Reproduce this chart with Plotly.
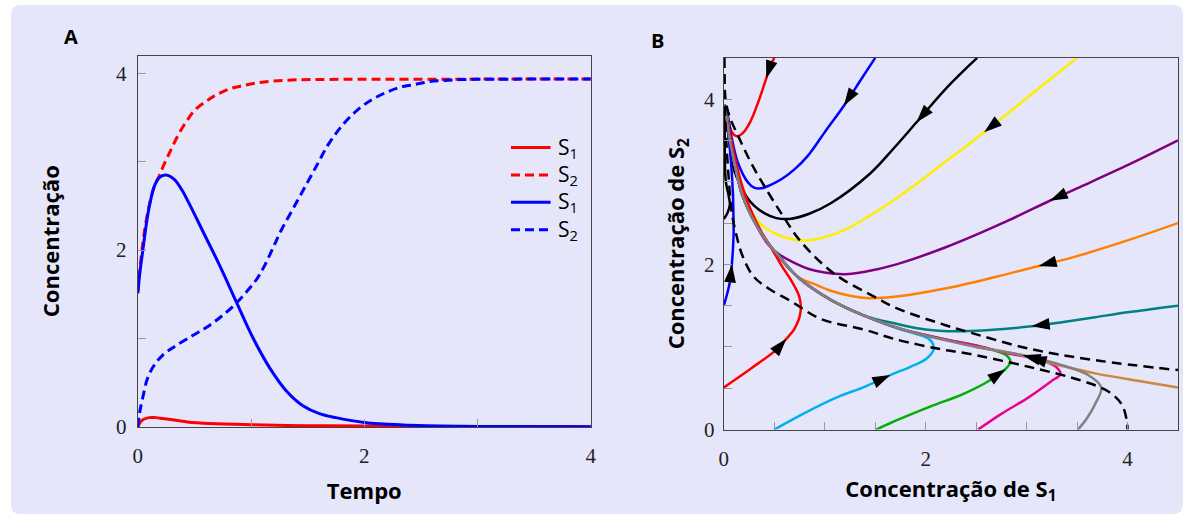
import plotly.graph_objects as go

W, H = 1191, 530
BG = "#e6e6fa"

# ---------------- Panel A data (time courses) ----------------
t_red_s1 = [0, 0.02, 0.044, 0.10, 0.16, 0.22, 0.29, 0.437, 0.64, 0.99, 1.5, 2.0, 3.0, 4.0]
red_s1 = [0, 0.05, 0.08, 0.105, 0.105, 0.095, 0.083, 0.056, 0.038, 0.025, 0.014, 0.009, 0.004, 0.002]

t_red_s2 = [0, 0.03, 0.06, 0.10, 0.146, 0.19, 0.219, 0.262, 0.306, 0.365, 0.437, 0.51, 0.612,
            0.70, 0.816, 0.933, 1.056, 1.187, 1.4, 1.7, 2.2, 3.0, 4.0]
red_s2 = [1.52, 1.92, 2.22, 2.50, 2.72, 2.84, 2.93, 3.05, 3.17, 3.32, 3.47, 3.59, 3.69,
          3.76, 3.825, 3.86, 3.89, 3.91, 3.925, 3.93, 3.932, 3.933, 3.933]

t_blue_s1 = [0, 0.02, 0.044, 0.073, 0.10, 0.146, 0.19, 0.248, 0.322, 0.394, 0.452, 0.583, 0.729,
             0.875, 1.02, 1.166, 1.312, 1.458, 1.604, 1.75, 2.0, 2.34, 2.85, 4.0]
blue_s1 = [1.51, 1.76, 1.99, 2.27, 2.48, 2.72, 2.82, 2.85, 2.80, 2.67, 2.53, 2.19, 1.81,
           1.40, 1.0, 0.665, 0.407, 0.24, 0.15, 0.105, 0.05, 0.022, 0.008, 0.003]

t_blue_s2 = [0, 0.015, 0.044, 0.087, 0.146, 0.219, 0.32, 0.48, 0.612, 0.729, 0.846, 0.962, 1.05,
             1.122, 1.196, 1.269, 1.385, 1.496, 1.59, 1.67, 1.75, 1.826, 1.91, 2.0, 2.10, 2.216,
             2.33, 2.45, 2.58, 2.706, 2.85, 3.1, 4.0]
blue_s2 = [0, 0.15, 0.33, 0.554, 0.70, 0.81, 0.905, 1.03, 1.13, 1.24, 1.37, 1.53, 1.67,
           1.83, 2.03, 2.23, 2.50, 2.76, 2.98, 3.17, 3.32, 3.44, 3.55, 3.645, 3.725, 3.795,
           3.845, 3.873, 3.906, 3.917, 3.928, 3.932, 3.933]

legend_labels = ["S<sub>1</sub>", "S<sub>2</sub>", "S<sub>1</sub>", "S<sub>2</sub>"]

# ---------------- Panel B data (phase plane) ----------------
red_top_x = [0.50, 0.46, 0.42, 0.34, 0.26, 0.18, 0.126, 0.085, 0.06, 0.028, 0.01]
red_top_y = [4.50, 4.40, 4.25, 3.96, 3.72, 3.58, 3.55, 3.59, 3.66, 3.86, 3.93]

blue_top_x = [1.50, 1.35, 1.19, 1.0, 0.83, 0.70, 0.57, 0.46, 0.37, 0.30, 0.24, 0.14, 0.077, 0.037, 0.01]
blue_top_y = [4.50, 4.22, 3.92, 3.60, 3.31, 3.15, 3.03, 2.96, 2.92, 2.93, 2.99, 3.23, 3.54, 3.82, 3.93]

black_top_x = [2.51, 2.21, 1.91, 1.68, 1.45, 1.06, 0.84, 0.65, 0.52, 0.40, 0.30, 0.22, 0.11, 0.06, 0.028, 0.01]
black_top_y = [4.50, 4.14, 3.72, 3.40, 3.10, 2.74, 2.61, 2.55, 2.56, 2.62, 2.71, 2.83, 3.11, 3.43, 3.78, 3.93]

yellow_x = [3.50, 3.03, 2.58, 2.205, 1.71, 1.22, 1.0, 0.83, 0.57, 0.34, 0.175, 0.077, 0.028, 0.01]
yellow_y = [4.50, 4.04, 3.60, 3.25, 2.80, 2.43, 2.33, 2.29, 2.34, 2.52, 2.91, 3.43, 3.82, 3.93]

purple_x = [4.50, 4.00, 3.50, 3.23, 2.80, 2.205, 1.71, 1.40, 1.20, 1.00, 0.85, 0.73, 0.55, 0.44,
            0.32, 0.18, 0.12, 0.06, 0.03, 0.01]
purple_y = [3.50, 3.20, 2.92, 2.77, 2.52, 2.21, 2.00, 1.91, 1.88, 1.90, 1.94, 2.00, 2.12, 2.24,
            2.48, 2.85, 3.15, 3.50, 3.75, 3.93]

orange_x = [4.50, 4.00, 3.50, 3.12, 2.70, 2.205, 1.71, 1.45, 1.25, 1.06, 0.90, 0.73, 0.56, 0.45,
            0.32, 0.18, 0.12, 0.06, 0.03, 0.01]
orange_y = [2.50, 2.29, 2.10, 1.98, 1.85, 1.71, 1.61, 1.59, 1.62, 1.68, 1.76, 1.85, 2.08, 2.24,
            2.48, 2.85, 3.15, 3.50, 3.75, 3.93]

teal_x = [4.50, 4.00, 3.68, 3.30, 3.05, 2.70, 2.37, 2.10, 1.90, 1.71, 1.50, 1.39, 1.06, 0.73,
          0.56, 0.45, 0.32, 0.18, 0.12, 0.06, 0.03, 0.01]
teal_y = [1.50, 1.42, 1.36, 1.29, 1.25, 1.21, 1.19, 1.20, 1.23, 1.28, 1.34, 1.38, 1.57, 1.85,
          2.08, 2.24, 2.48, 2.85, 3.15, 3.50, 3.75, 3.93]

cyan_x = [0.50, 0.80, 1.12, 1.40, 1.65, 1.85, 2.01, 2.08, 2.04, 1.90, 1.71, 1.39, 1.06, 0.73,
          0.56, 0.45, 0.32, 0.18, 0.12, 0.06, 0.03, 0.01]
cyan_y = [0.00, 0.20, 0.39, 0.52, 0.66, 0.76, 0.86, 0.98, 1.09, 1.16, 1.23, 1.38, 1.57, 1.85,
          2.08, 2.24, 2.48, 2.85, 3.15, 3.50, 3.75, 3.93]

green_x = [1.51, 1.71, 2.05, 2.37, 2.60, 2.79, 2.84, 2.80, 2.70, 2.53, 2.20, 1.75, 1.39, 1.06,
           0.73, 0.45, 0.32, 0.18, 0.12, 0.06, 0.03, 0.01]
green_y = [0.00, 0.11, 0.28, 0.43, 0.57, 0.73, 0.82, 0.90, 0.95, 1.01, 1.09, 1.22, 1.38, 1.57,
           1.85, 2.24, 2.48, 2.85, 3.15, 3.50, 3.75, 3.93]

pink_x = [2.52, 2.75, 3.02, 3.25, 3.335, 3.30, 3.19, 3.02, 2.86, 2.53, 2.20, 1.75, 1.39, 1.06,
          0.73, 0.45, 0.32, 0.18, 0.12, 0.06, 0.03, 0.01]
pink_y = [0.00, 0.19, 0.39, 0.59, 0.67, 0.75, 0.82, 0.88, 0.91, 1.01, 1.09, 1.22, 1.38, 1.57,
          1.85, 2.24, 2.48, 2.85, 3.15, 3.50, 3.75, 3.93]

brown_x = [4.50, 4.10, 3.68, 3.35, 3.12, 2.96, 2.50]
brown_y = [0.51, 0.59, 0.68, 0.77, 0.84, 0.90, 1.00]

gray_x = [3.51, 3.60, 3.68, 3.74, 3.61, 3.35, 2.96, 2.50, 2.20, 1.75, 1.39, 1.06, 0.73, 0.56,
          0.45, 0.32, 0.18, 0.12, 0.06, 0.03, 0.01]
gray_y = [0.00, 0.14, 0.31, 0.51, 0.66, 0.78, 0.90, 1.00, 1.08, 1.22, 1.38, 1.57, 1.85, 2.08,
          2.24, 2.48, 2.85, 3.15, 3.50, 3.75, 3.93]

red_bot_x = [0.00, 0.27, 0.535, 0.62, 0.70, 0.76, 0.75, 0.68, 0.58, 0.48, 0.37, 0.26, 0.17, 0.10,
             0.05, 0.02, 0.01]
red_bot_y = [0.51, 0.74, 0.98, 1.10, 1.22, 1.42, 1.60, 1.78, 1.97, 2.18, 2.40, 2.68, 3.00, 3.35,
             3.65, 3.85, 3.93]

blue_left_x = [0.0, 0.035, 0.064, 0.08, 0.097, 0.095, 0.09, 0.064, 0.03, 0.01]
blue_left_y = [1.50, 1.65, 1.81, 2.00, 2.36, 2.62, 2.87, 3.35, 3.74, 3.93]

black_left_x = [0.0, 0.035, 0.06, 0.045, 0.02, 0.01, 0.01, 0.01]
black_left_y = [2.55, 2.62, 2.72, 2.85, 3.0, 3.3, 3.65, 3.93]

null1_x = [0.005, 0.008, 0.02, 0.06, 0.14, 0.27, 0.44, 0.60, 0.76, 1.09, 1.52, 1.71, 2.205,
           2.37, 3.02, 3.68, 4.5]
null1_y = [4.5, 4.2, 3.97, 3.78, 3.56, 3.23, 2.87, 2.56, 2.28, 1.89, 1.59, 1.47, 1.26,
           1.20, 0.98, 0.84, 0.72]

null2_x = [0.003, 0.006, 0.012, 0.025, 0.047, 0.08, 0.12, 0.18, 0.29, 0.44, 0.67, 0.96, 1.39,
           1.71, 2.205, 2.37, 3.02, 3.55, 3.81, 3.94, 3.99, 4.0]
null2_y = [4.5, 4.2, 3.9, 3.5, 3.07, 2.62, 2.38, 2.12, 1.86, 1.71, 1.55, 1.34, 1.21,
           1.09, 0.96, 0.93, 0.76, 0.59, 0.46, 0.31, 0.13, 0.0]

# trajectories: (x, y, colour, index of point carrying an arrowhead or None)
trajectories = [
    (red_top_x, red_top_y, "#ff0000", 2),
    (blue_top_x, blue_top_y, "#0000ff", 2),
    (black_top_x, black_top_y, "#000000", 2),
    (yellow_x, yellow_y, "#ffee00", 2),
    (purple_x, purple_y, "#800080", 3),
    (orange_x, orange_y, "#ff8000", 3),
    (teal_x, teal_y, "#008080", 4),
    (cyan_x, cyan_y, "#00b0f0", 4),
    (green_x, green_y, "#00b000", 5),
    (pink_x, pink_y, "#ec008c", 7),
    (red_bot_x, red_bot_y, "#ff0000", 3),
    (blue_left_x, blue_left_y, "#0000ff", 3),
    (black_left_x, black_left_y, "#000000", None),
    (brown_x, brown_y, "#cd853f", None),
    (gray_x, gray_y, "#808080", 6),
]

fig = go.Figure()

# ---- Panel A traces
a_series = [
    (t_red_s1, red_s1, "#ff0000", "solid"),
    (t_red_s2, red_s2, "#ff0000", "9px,5px"),
    (t_blue_s1, blue_s1, "#0000ff", "solid"),
    (t_blue_s2, blue_s2, "#0000ff", "9px,5px"),
]
for (tx, ty, col, dash), lab in zip(a_series, legend_labels):
    fig.add_trace(go.Scatter(x=tx, y=ty, mode="lines", name=lab, xaxis="x", yaxis="y",
                             line=dict(color=col, width=3, dash=dash, shape="spline", smoothing=1.0),
                             showlegend=False, hoverinfo="skip"))

# ---- Panel B traces
for tx, ty, col, ai in trajectories:
    fig.add_trace(go.Scatter(x=tx, y=ty, mode="lines", xaxis="x2", yaxis="y2",
                             line=dict(color=col, width=2.5, shape="spline", smoothing=1.0),
                             showlegend=False, hoverinfo="skip"))
for nx, ny in [(null1_x, null1_y), (null2_x, null2_y)]:
    fig.add_trace(go.Scatter(x=nx, y=ny, mode="lines", xaxis="x2", yaxis="y2",
                             line=dict(color="#000000", width=2.5, dash="10px,6px", shape="spline", smoothing=1.0),
                             showlegend=False, hoverinfo="skip"))
for tx, ty, col, ai in trajectories:
    if ai is None:
        continue
    fig.add_trace(go.Scatter(x=[tx[ai - 1], tx[ai]], y=[ty[ai - 1], ty[ai]], mode="markers",
                             xaxis="x2", yaxis="y2",
                             marker=dict(symbol="arrow", size=19, color="#000000", angleref="previous",
                                         line=dict(width=0)),
                             showlegend=False, hoverinfo="skip"))

SANS = "Open Sans"
SERIF = "Liberation Serif"
tickfont = dict(family=SERIF, size=21, color="#222")
titlefont = dict(family=SANS, size=22, color="#000", weight="bold")


def px_x(p):
    return p / W


def px_y(p):
    return 1 - p / H


axis_common = dict(showgrid=False, zeroline=False, showline=True, linecolor="#444", linewidth=1,
                   mirror=True, ticks="inside", ticklen=8, tickcolor="#999", tickwidth=1,
                   tickfont=tickfont, tickmode="linear", tick0=0, dtick=2)

fig.update_layout(
    width=W, height=H,
    margin=dict(l=0, r=0, t=0, b=0),
    paper_bgcolor="#ffffff",
    plot_bgcolor=BG,
    xaxis=dict(axis_common, domain=[px_x(134), px_x(591.3)], range=[0, 4], anchor="y",
               ticklabelstandoff=10,
               minor=dict(tickmode="linear", tick0=0, dtick=1, ticks="inside", ticklen=8, tickcolor="#999"),
               title=dict(text="Tempo", font=titlefont, standoff=16)),
    yaxis=dict(axis_common, domain=[px_y(436.8), px_y(56.8)], range=[0, 4.2], anchor="x",
               ticklabelstandoff=6,
               minor=dict(tickmode="linear", tick0=0, dtick=1, ticks="inside", ticklen=8, tickcolor="#999"),
               title=dict(text="Concentração", font=titlefont, standoff=50)),
    xaxis2=dict(axis_common, domain=[px_x(725.5), px_x(1183.9)], range=[0, 4.5], anchor="y2",
                ticklabelstandoff=10,
                minor=dict(tickmode="linear", tick0=0, dtick=0.5, ticks="inside", ticklen=8, tickcolor="#999"),
                title=dict(text="Concentração de S<sub>1</sub>", font=titlefont, standoff=11)),
    yaxis2=dict(axis_common, domain=[px_y(439.5), px_y(59.2)], range=[0, 4.5], anchor="x2",
                ticklabelstandoff=4,
                minor=dict(tickmode="linear", tick0=0, dtick=0.5, ticks="inside", ticklen=8, tickcolor="#999"),
                title=dict(text="Concentração de S<sub>2</sub>", font=titlefont, standoff=13)),
)

# background card with rounded corners
x0, x1, y0, y1 = px_x(6), px_x(1189), px_y(526), px_y(5)
rx, ry = 10 / W, 10 / H
card = (f"M {x0 + rx},{y1} L {x1 - rx},{y1} Q {x1},{y1} {x1},{y1 - ry} L {x1},{y0 + ry} "
        f"Q {x1},{y0} {x1 - rx},{y0} L {x0 + rx},{y0} Q {x0},{y0} {x0},{y0 + ry} "
        f"L {x0},{y1 - ry} Q {x0},{y1} {x0 + rx},{y1} Z")
shapes = [dict(type="path", path=card, xref="paper", yref="paper", fillcolor=BG,
               line=dict(width=0), layer="below")]

# manual legend for panel A
annotations = []
leg_y = [151, 179, 207, 235]
for (tx, ty, col, dash), lab, yy in zip(a_series, legend_labels, leg_y):
    shapes.append(dict(type="line", xref="paper", yref="paper", x0=px_x(510.7), x1=px_x(550.7),
                       y0=px_y(yy), y1=px_y(yy), line=dict(color=col, width=3, dash=dash)))
    annotations.append(dict(text=lab, xref="paper", yref="paper", x=px_x(556), y=px_y(yy),
                            xanchor="left", yanchor="middle", showarrow=False,
                            font=dict(family=SANS, size=21, color="#000")))

annotations.append(dict(text="A", xref="paper", yref="paper", x=px_x(67), y=px_y(37),
                        xanchor="center", yanchor="middle", showarrow=False,
                        font=dict(family=SANS, size=20, color="#000", weight="bold")))
annotations.append(dict(text="B", xref="paper", yref="paper", x=px_x(659), y=px_y(41),
                        xanchor="center", yanchor="middle", showarrow=False,
                        font=dict(family=SANS, size=20, color="#000", weight="bold")))

fig.update_layout(shapes=shapes, annotations=annotations)

fig.write_html("out.html")
